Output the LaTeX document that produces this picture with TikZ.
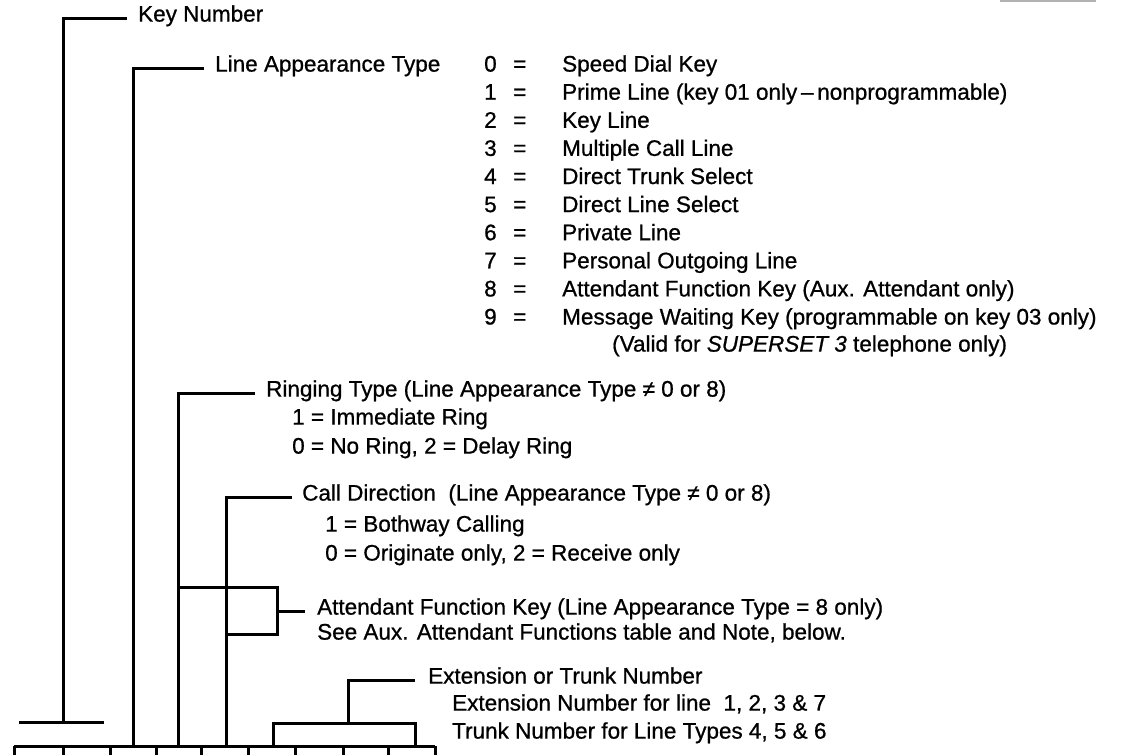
\documentclass[tikz,border=0pt]{standalone}
\usepackage{fontspec}
\setmainfont{Liberation Sans}
\newfontfamily\scanfont{Liberation Sans}[FakeBold=0.8]
\begin{document}
\begin{tikzpicture}[x=1pt,y=-1pt,
  lbl/.style={anchor=west, inner sep=0pt, text height=0.72em, text depth=0pt, font=\scanfont\fontsize{22.5}{27}\selectfont},
  br/.style={line width=3pt},
  boxline/.style={line width=3pt}]
\useasboundingbox (0,0) rectangle (1136,755);
% faint line at top right
\draw[gray!60, line width=1.6pt] (1000,0.8) -- (1096,0.8);

% labels
\node[lbl] (kn) at (138,18) {Key Number};
\node[lbl] (la) at (215,68) {Line Appearance Type};
\foreach \i/\t in {0/{Speed Dial Key},
                   1/{Prime Line (key 01 only\,–\,nonprogrammable)},
                   2/{Key Line},
                   3/{Multiple Call Line},
                   4/{Direct Trunk Select},
                   5/{Direct Line Select},
                   6/{Private Line},
                   7/{Personal Outgoing Line},
                   8/{Attendant Function Key (Aux. Attendant only)},
                   9/{Message Waiting Key (programmable on key 03 only)}}{
  \node[lbl] (n\i) at (484,68+28.1*\i) {\i};
  \node[lbl] (e\i) at (513,68+28.1*\i) {=};
  \node[lbl] (d\i) at (562,68+28.1*\i) {\t};
}
\node[lbl] (valid) at (612,348) {(Valid for \textit{SUPERSET 3} telephone only)};

\node[lbl] (rt)  at (266,393) {Ringing Type (Line Appearance Type ≠ 0 or 8)};
\node[lbl] (rt1) at (292,421) {1 = Immediate Ring};
\node[lbl] (rt2) at (292,450) {0 = No Ring, 2 = Delay Ring};

\node[lbl] (cd)  at (302,497) {Call Direction\ \ (Line Appearance Type ≠ 0 or 8)};
\node[lbl] (cd1) at (325,528) {1 = Bothway Calling};
\node[lbl] (cd2) at (325,557) {0 = Originate only, 2 = Receive only};

\node[lbl] (af)  at (317,611) {Attendant Function Key (Line Appearance Type = 8 only)};
\node[lbl] (af2) at (317,636) {See Aux. Attendant Functions table and Note, below.};

\node[lbl] (ex)  at (428,680) {Extension or Trunk Number};
\node[lbl] (ex1) at (452,707) {Extension Number for line\ \ 1, 2, 3 \& 7};
\node[lbl] (ex2) at (452,735) {Trunk Number for Line Types 4, 5 \& 6};

% coordinates on the digit row
\coordinate (kbar) at (63,722);
\coordinate (b3) at (133,746);
\coordinate (b4) at (178,746);
\coordinate (b5) at (226,746);
\coordinate (ebar) at (348,723);

% digit boxes (cut off at the bottom)
\draw[boxline] (14,746) -- (435,746);
\foreach \x in {14,63,110,156,201,248,295,343,388,435}
  \draw[boxline] (\x,746) -- (\x,756);

% key number bracket
\draw[br] (19,722) -- (104,722);
\draw[br] ([xshift=-11pt]kn.west) -| (kbar);
% line appearance type
\draw[br] ([xshift=-11pt]la.west) -| (b3);
% ringing type
\draw[br] ([xshift=-11pt]rt.west) -| (b4);
% call direction
\draw[br] ([xshift=-10pt]cd.west) -| (b5);
% attendant function key bracket
\draw[br] (178,587) -- (277,587) -- (277,634) -- (226,634);
\draw[br] ([xshift=-12pt]af.west) -- (277,611);
% extension or trunk number
\draw[br] ([xshift=-13pt]ex.west) -| (ebar);
\draw[br] (273,746) -- (273,723) -- (415,723) -- (415,746);
\end{tikzpicture}
\end{document}
